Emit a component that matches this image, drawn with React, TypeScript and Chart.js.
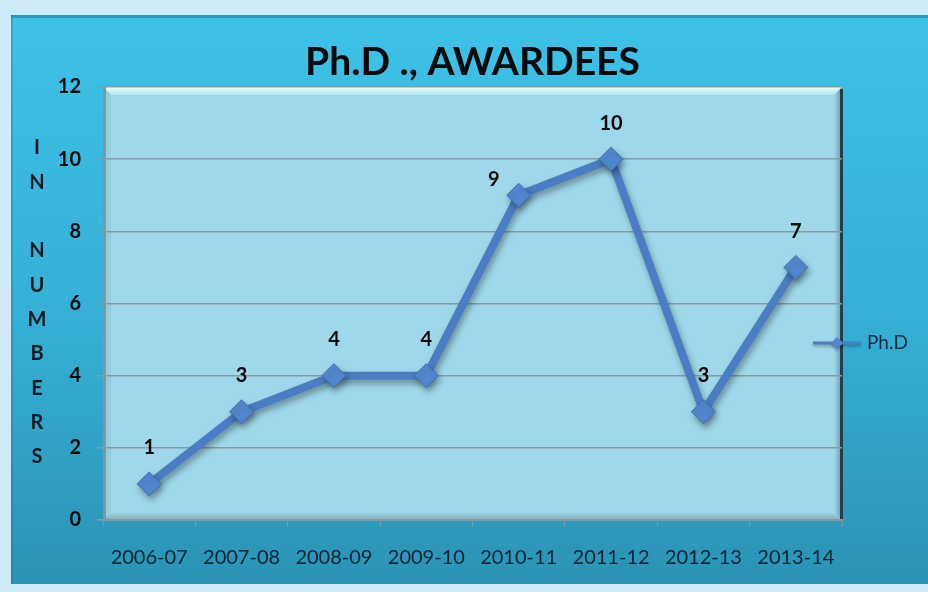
import { useEffect, useRef } from "react";
import { Chart, registerables } from "chart.js";

Chart.register(...registerables);

const categories = ["2006-07", "2007-08", "2008-09", "2009-10", "2010-11", "2011-12", "2012-13", "2013-14"];
const phdValues = [1, 3, 4, 4, 9, 10, 3, 7];
const seriesLabel = "Ph.D";
const yTickValues = [0, 2, 4, 6, 8, 10, 12];
const chartTitle = "Ph.D ., AWARDEES";
const axisTitleLetters = ["I", "N", "", "N", "U", "M", "B", "E", "R", "S"];

const FONT = "Lato, 'Open Sans', sans-serif";
const LINE_COLOR = "#4a7dc4";

const labelShift: Record<number, [number, number]> = { 4: [-25, 20] };

const decorPlugin = {
  id: "decor",
  beforeDraw(chart: any) {
    const { ctx, width, height, chartArea: a } = chart;
    ctx.save();
    ctx.fillStyle = "#cdeaf6";
    ctx.fillRect(0, 0, width, height);
    const g = ctx.createLinearGradient(0, 15, 0, 584);
    g.addColorStop(0, "#3ec2e8");
    g.addColorStop(0.5, "#36b1d8");
    g.addColorStop(1, "#2b93b5");
    ctx.fillStyle = g;
    ctx.fillRect(11, 15, width - 11, 569);
    ctx.fillStyle = "rgba(30,120,160,0.55)";
    ctx.fillRect(11, 15, width - 11, 3);
    ctx.fillStyle = "rgba(30,110,150,0.35)";
    ctx.fillRect(11, 15, 2, 569);

    const L = a.left, T = a.top, R = a.right, B = a.bottom, d = 8;
    ctx.fillStyle = "#9fd8ea";
    ctx.fillRect(L, T, R - L, B - T);
    const gt = ctx.createLinearGradient(0, T, 0, T + d);
    gt.addColorStop(0, "#eefcff");
    gt.addColorStop(1, "#b4e4f2");
    ctx.fillStyle = gt;
    ctx.beginPath();
    ctx.moveTo(L, T); ctx.lineTo(R, T); ctx.lineTo(R - d, T + d); ctx.lineTo(L + d, T + d); ctx.closePath();
    ctx.fill();
    const gr = ctx.createLinearGradient(R - d, 0, R, 0);
    gr.addColorStop(0, "#9fd8ea");
    gr.addColorStop(1, "#6a96a4");
    ctx.fillStyle = gr;
    ctx.beginPath();
    ctx.moveTo(R, T); ctx.lineTo(R, B); ctx.lineTo(R - d, B - d); ctx.lineTo(R - d, T + d); ctx.closePath();
    ctx.fill();
    const gb = ctx.createLinearGradient(0, B - d, 0, B);
    gb.addColorStop(0, "#9fd8ea");
    gb.addColorStop(1, "#86aab6");
    ctx.fillStyle = gb;
    ctx.beginPath();
    ctx.moveTo(L, B); ctx.lineTo(R, B); ctx.lineTo(R - d, B - d); ctx.lineTo(L + d, B - d); ctx.closePath();
    ctx.fill();
    ctx.fillStyle = "#96cee0";
    ctx.beginPath();
    ctx.moveTo(L, T); ctx.lineTo(L, B); ctx.lineTo(L + d, B - d); ctx.lineTo(L + d, T + d); ctx.closePath();
    ctx.fill();
    ctx.fillStyle = "#7e98a1";
    ctx.fillRect(L, T, 3, B - T);
    ctx.fillStyle = "#23404a";
    ctx.fillRect(R - 2, T + 2, 3, B - T - 2);
    ctx.restore();
  },
  beforeDatasetsDraw(chart: any) {
    const ctx = chart.ctx;
    ctx.save();
    ctx.shadowColor = "rgba(0,0,0,0.35)";
    ctx.shadowBlur = 6;
    ctx.shadowOffsetX = 2;
    ctx.shadowOffsetY = 4;
  },
  afterDatasetsDraw(chart: any) {
    chart.ctx.restore();
  },
  afterDraw(chart: any) {
    const { ctx, chartArea: a } = chart;
    ctx.save();
    ctx.fillStyle = "#0a0a0a";
    ctx.font = `bold 39px ${FONT}`;
    ctx.textAlign = "center";
    ctx.textBaseline = "middle";
    ctx.fillText(chartTitle, (a.left + a.right) / 2, 62);

    ctx.font = `bold 20px ${FONT}`;
    ctx.fillStyle = "#101820";
    axisTitleLetters.forEach((ch, i) => {
      if (ch) ctx.fillText(ch, 37, 148 + i * 34.3);
    });

    const meta = chart.getDatasetMeta(0);
    const ds = chart.data.datasets[0];
    ctx.font = `bold 20px ${FONT}`;
    ctx.fillStyle = "#0a0a0a";
    meta.data.forEach((pt: any, i: number) => {
      const s = labelShift[i] || [0, 0];
      ctx.fillText(String(ds.data[i]), pt.x + s[0], pt.y - 36 + s[1]);
    });

    const ly = 343;
    ctx.shadowColor = "rgba(0,0,0,0.3)";
    ctx.shadowBlur = 3;
    ctx.shadowOffsetY = 2;
    ctx.strokeStyle = ds.borderColor;
    ctx.lineWidth = 3;
    ctx.beginPath();
    ctx.moveTo(813, ly);
    ctx.lineTo(861, ly);
    ctx.stroke();
    ctx.fillStyle = ds.pointBackgroundColor;
    ctx.beginPath();
    ctx.moveTo(837, ly - 6); ctx.lineTo(843, ly); ctx.lineTo(837, ly + 6); ctx.lineTo(831, ly); ctx.closePath();
    ctx.fill();
    ctx.shadowColor = "transparent";
    ctx.fillStyle = "#122c3a";
    ctx.font = `19px ${FONT}`;
    ctx.textAlign = "left";
    ctx.fillText(ds.label, 867, ly);
    ctx.restore();
  },
};

export default function App() {
  const ref = useRef<HTMLCanvasElement | null>(null);
  useEffect(() => {
    if (!ref.current) return;
    const chart = new Chart(ref.current, {
      type: "line",
      data: {
        labels: categories,
        datasets: [
          {
            label: seriesLabel,
            data: phdValues,
            borderColor: LINE_COLOR,
            borderWidth: 8,
            pointStyle: "rectRot",
            pointRadius: 12,
            pointBackgroundColor: "#5288d0",
            pointBorderColor: "#3e6fb3",
            pointBorderWidth: 1,
            tension: 0,
          },
        ],
      },
      options: {
        animation: false,
        responsive: false,
        devicePixelRatio: 1,
        layout: { padding: { left: 0, top: 87, right: 86, bottom: 0 }, autoPadding: false },
        plugins: { legend: { display: false }, title: { display: false }, tooltip: { enabled: false } },
        scales: {
          x: {
            offset: true,
            grid: { display: true, drawOnChartArea: false, tickLength: 6, color: "#7f9aa3", offset: true },
            border: { display: true, color: "#7f9aa3", width: 2 },
            ticks: { color: "#0e2433", font: { family: FONT, size: 20 }, padding: 20, maxRotation: 0, autoSkip: false },
            afterFit(scale: any) {
              scale.height = 72;
            },
          },
          y: {
            min: 0,
            max: 12,
            afterBuildTicks(scale: any) {
              scale.ticks = yTickValues.map((v) => ({ value: v }));
            },
            grid: { color: "#8a9aa0", lineWidth: 1.5, tickLength: 6 },
            border: { display: false },
            ticks: { color: "#0a0a0a", font: { family: FONT, size: 20, weight: "bold" }, padding: 16 },
            afterFit(scale: any) {
              scale.width = 103;
            },
          },
        },
      },
      plugins: [decorPlugin],
    });
    return () => chart.destroy();
  }, []);
  return (
    <div style={{ position: "absolute", left: 0, top: 0, width: 928, height: 592 }}>
      <canvas ref={ref} width={928} height={592} style={{ display: "block" }} />
    </div>
  );
}
